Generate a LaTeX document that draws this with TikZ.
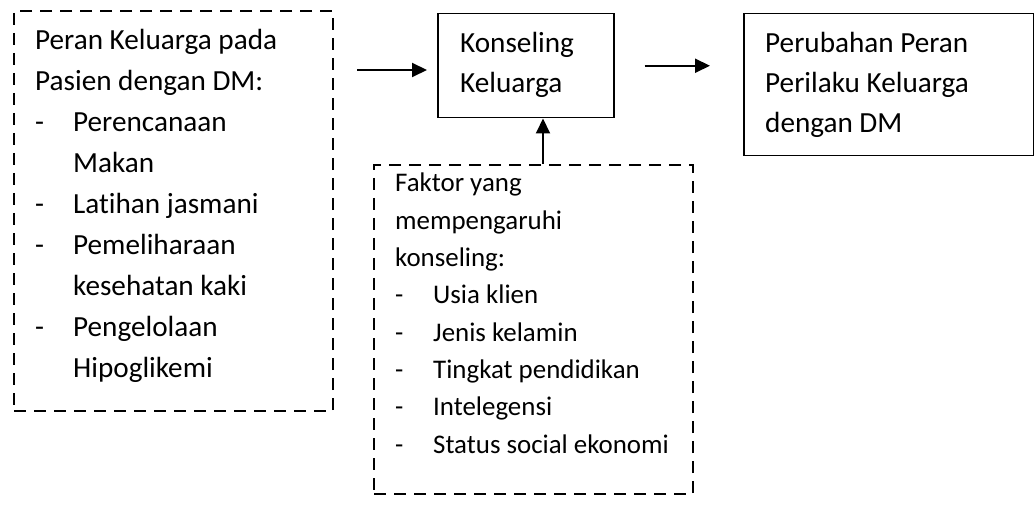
\documentclass[tikz,border=0pt]{standalone}
\usepackage{fontspec}
\setmainfont{Carlito}[Ligatures=NoCommon]
\usetikzlibrary{arrows.meta}

\tikzset{
  dashbox/.style={draw, line width=2bp, dash pattern=on 12bp off 8bp, anchor=north west, inner sep=0pt},
  solidbox/.style={draw, line width=1.5bp, anchor=north west, inner sep=0pt},
  txt/.style={anchor=base west, inner sep=0pt, font=\fontsize{29.3}{35}\selectfont},
  smalltxt/.style={txt, font=\fontsize{27}{32}\selectfont},
  arr/.style={-{Triangle[length=15bp,width=14bp]}, line width=2bp},
}

\begin{document}
\begin{tikzpicture}[x=1bp,y=-1bp]
    \useasboundingbox (0,0) rectangle (1034,525);
    % boxes
    \node[dashbox, minimum width=319bp, minimum height=400bp] (peran) at (13,10) {};
    \node[solidbox, minimum width=176bp, minimum height=104bp] (konseling) at (437,13) {};
    \node[solidbox, minimum width=290bp, minimum height=142bp] (perubahan) at (743,13) {};
    \node[dashbox, minimum width=319bp, minimum height=329bp] (faktor) at (373,164) {};
    % left box text
    \foreach \dx/\t [count=\i] in {0/Peran Keluarga pada, 0/Pasien dengan DM:, 38/Perencanaan,
        38/Makan, 38/Latihan jasmani, 38/Pemeliharaan, 38/kesehatan kaki, 38/Pengelolaan, 38/Hipoglikemi}
        \node[txt] (p\i) at ({35+\dx},{50+40.9*(\i-1)}) {\t};
    \foreach \i in {3,5,6,8}
        \node[txt] (pd\i) at (35,{50+40.9*(\i-1)}) {-};
    % middle and right box text
    \node[txt] (k1) at (460,53) {Konseling};
    \node[txt] (k2) at (460,93) {Keluarga};
    \node[txt] (r1) at (765,53) {Perubahan Peran};
    \node[txt] (r2) at (765,93) {Perilaku Keluarga};
    \node[txt] (r3) at (765,133) {dengan DM};
    % bottom box text
    \foreach \dx/\t [count=\i] in {0/Faktor yang, 0/mempengaruhi, 0/konseling:, 38/Usia klien,
        38/Jenis kelamin, 38/Tingkat pendidikan, 38/Intelegensi, 38/Status social ekonomi}
        \node[smalltxt] (f\i) at ({395+\dx},{192+37.3*(\i-1)}) {\t};
    \foreach \i in {4,...,8}
        \node[smalltxt] (fd\i) at (395,{192+37.3*(\i-1)}) {-};
    % arrows
    \coordinate (a1) at (332,70);
    \coordinate (a3) at (543,164);
    \draw[arr, shorten <=25bp, shorten >=10bp] (a1) -- (a1 -| konseling.west);
    \draw[arr, shorten <=30bp, shorten >=33bp] (konseling.east) -- (konseling.east -| perubahan.west);
    \draw[arr] (a3) -- (a3 |- konseling.south);
\end{tikzpicture}
\end{document}
